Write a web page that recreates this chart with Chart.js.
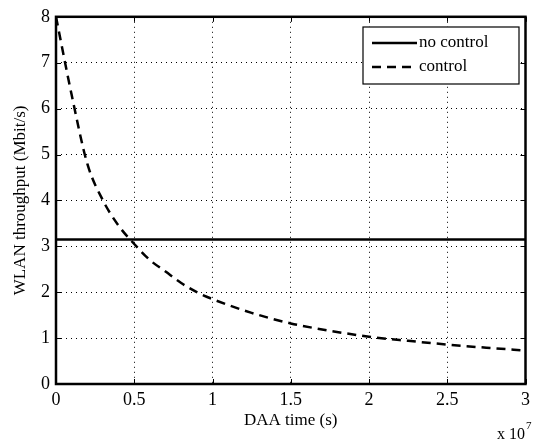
<!DOCTYPE html>
<html>
<head>
<meta charset="utf-8">
<script src="https://cdn.jsdelivr.net/npm/chart.js@4/dist/chart.umd.min.js"></script>
<style>
  html, body { margin: 0; padding: 0; background: #fff; }
  #wrap { width: 535px; height: 443px; position: relative; }
</style>
</head>
<body>
<div id="wrap"><canvas id="chart"></canvas></div>
<script>
// DAA time in units of 1e7 s
const daaTime = [0, 0.1, 0.2, 0.3, 0.4, 0.5, 0.6, 0.7, 0.8, 0.9, 1.0, 1.25, 1.5, 1.75, 2.0, 2.25, 2.5, 2.75, 3.0];
const controlThroughput = [8.0, 6.3, 4.8, 4.0, 3.45, 3.05, 2.7, 2.45, 2.2, 2.0, 1.85, 1.55, 1.32, 1.16, 1.03, 0.94, 0.86, 0.79, 0.73];
const noControlTime = [0, 3];
const noControlThroughput = [3.15, 3.15];
const seriesNames = ["no control", "control"];
const xTicks = [0, 0.5, 1, 1.5, 2, 2.5, 3];
const yTicks = [0, 1, 2, 3, 4, 5, 6, 7, 8];

const serif = "'Liberation Serif', 'DejaVu Serif', serif";

function toPoints(xs, ys) {
    const pts = [];
    for (let i = 0; i < xs.length; i++) {
        pts.push({ x: xs[i], y: ys[i] });
    }
    return pts;
}

// frame, inner tick marks, legend box and exponent label
const matlabLook = {
    id: "matlabLook",
    afterDatasetsDraw(chart) {
        const ctx = chart.ctx;
        const a = chart.chartArea;
        const xs = chart.scales.x;
        const ys = chart.scales.y;
        ctx.save();
        ctx.strokeStyle = "#000";
        ctx.lineWidth = 1;
        ctx.setLineDash([]);
        ctx.beginPath();
        xs.ticks.forEach(function (t) {
            const px = Math.round(xs.getPixelForValue(t.value)) + 0.5;
            ctx.moveTo(px, a.bottom); ctx.lineTo(px, a.bottom - 5);
            ctx.moveTo(px, a.top); ctx.lineTo(px, a.top + 5);
        });
        ys.ticks.forEach(function (t) {
            const py = Math.round(ys.getPixelForValue(t.value)) + 0.5;
            ctx.moveTo(a.left, py); ctx.lineTo(a.left + 5, py);
            ctx.moveTo(a.right, py); ctx.lineTo(a.right - 5, py);
        });
        ctx.stroke();

        ctx.lineWidth = 2.5;
        ctx.strokeRect(a.left, a.top, a.right - a.left, a.bottom - a.top);

        // legend
        const lx = 363, ly = 27, lw = 156, lh = 57;
        ctx.fillStyle = "#fff";
        ctx.fillRect(lx, ly, lw, lh);
        ctx.lineWidth = 1.2;
        ctx.strokeRect(lx, ly, lw, lh);
        ctx.font = "17px " + serif;
        ctx.textBaseline = "middle";
        ctx.textAlign = "left";
        const rows = [ly + 16, ly + 40];
        chart.data.datasets.forEach(function (ds, i) {
            ctx.lineWidth = 2.5;
            ctx.setLineDash(ds.borderDash || []);
            ctx.beginPath();
            ctx.moveTo(lx + 9, rows[i]);
            ctx.lineTo(lx + 54, rows[i]);
            ctx.stroke();
            ctx.setLineDash([]);
            ctx.fillStyle = "#000";
            ctx.fillText(ds.label, lx + 56, rows[i]);
        });

        // x 10^7
        ctx.font = "16px " + serif;
        ctx.textAlign = "left";
        ctx.textBaseline = "alphabetic";
        ctx.fillText("x 10", 497, 439);
        ctx.font = "11px " + serif;
        ctx.fillText("7", 526, 429);
        ctx.restore();
    }
};

new Chart(document.getElementById("chart"), {
    type: "line",
    data: {
        datasets: [{
            label: seriesNames[0],
            data: toPoints(noControlTime, noControlThroughput),
            borderColor: "#000",
            borderWidth: 2.5,
            pointRadius: 0,
            fill: false
        }, {
            label: seriesNames[1],
            data: toPoints(daaTime, controlThroughput),
            borderColor: "#000",
            borderWidth: 2.5,
            borderDash: [9, 6],
            pointRadius: 0,
            cubicInterpolationMode: "monotone",
            fill: false
        }]
    },
    options: {
        responsive: true,
        maintainAspectRatio: false,
        animation: false,
        layout: { padding: { left: 0, right: 9, top: 13, bottom: 0 } },
        plugins: {
            legend: { display: false },
            tooltip: { enabled: false }
        },
        scales: {
            x: {
                type: "linear",
                min: 0,
                max: 3,
                afterBuildTicks: function (scale) {
                    scale.ticks = xTicks.map(function (v) { return { value: v }; });
                },
                ticks: {
                    color: "#000",
                    font: { family: serif, size: 18 },
                    padding: 5,
                    maxRotation: 0,
                    callback: function (v) { return String(v); }
                },
                grid: { color: "#000", lineWidth: 1, drawTicks: false },
                border: { display: false, dash: [1, 4] },
                title: {
                    display: true,
                    text: "DAA time (s)",
                    color: "#000",
                    font: { family: serif, size: 17 },
                    padding: { top: 0, bottom: 12 }
                },
                afterFit: function (scale) { scale.height = 59; }
            },
            y: {
                type: "linear",
                min: 0,
                max: 8,
                afterBuildTicks: function (scale) {
                    scale.ticks = yTicks.map(function (v) { return { value: v }; });
                },
                ticks: {
                    color: "#000",
                    font: { family: serif, size: 18 },
                    padding: 6
                },
                grid: { color: "#000", lineWidth: 1, drawTicks: false },
                border: { display: false, dash: [1, 4] },
                title: {
                    display: true,
                    text: "WLAN throughput (Mbit/s)",
                    color: "#000",
                    font: { family: serif, size: 17 },
                    padding: { top: 10, bottom: 0 }
                },
                afterFit: function (scale) { scale.width = 56; }
            }
        }
    },
    plugins: [matlabLook]
});
</script>
</body>
</html>
